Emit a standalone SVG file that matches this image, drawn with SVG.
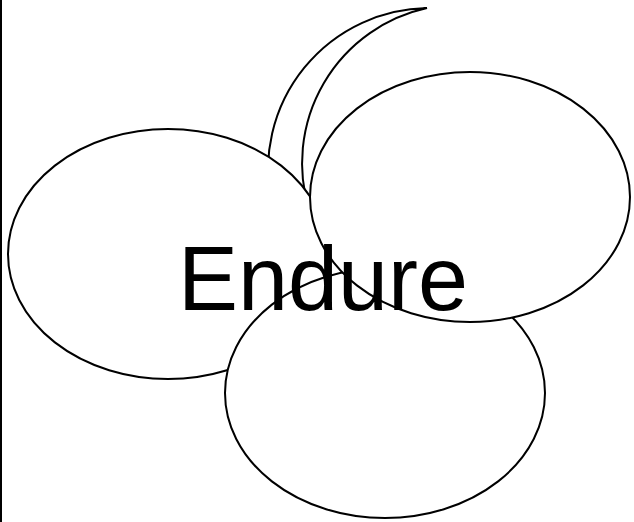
<svg xmlns="http://www.w3.org/2000/svg" width="634" height="522" viewBox="0 0 634 522">
<style>
.shape{fill:#fff;stroke:#000;stroke-width:2}
.label{font-family:"Liberation Sans",Arial,sans-serif;font-size:91px;fill:#000}
</style>
<rect x="0" y="0" width="634" height="522" fill="#fff"/>
<rect id="edge" x="0" y="0" width="2" height="522" fill="#000"/>
<g id="crescent">
<path class="shape" d="M427,8 A162,162 0 0 0 270.8,200 L309.1,210 A159,159 0 0 1 427,8 Z"/>
</g>
<g id="ellipse-left">
<ellipse class="shape" cx="168" cy="254" rx="160" ry="125"/>
</g>
<g id="ellipse-bottom">
<ellipse class="shape" cx="385" cy="393" rx="160" ry="125"/>
</g>
<g id="ellipse-right">
<ellipse class="shape" cx="470" cy="197" rx="160" ry="125"/>
</g>
<g id="connectors"></g>
<g id="title">
<text class="label" x="178" y="310" textLength="290" lengthAdjust="spacingAndGlyphs">Endure</text>
</g>
</svg>
